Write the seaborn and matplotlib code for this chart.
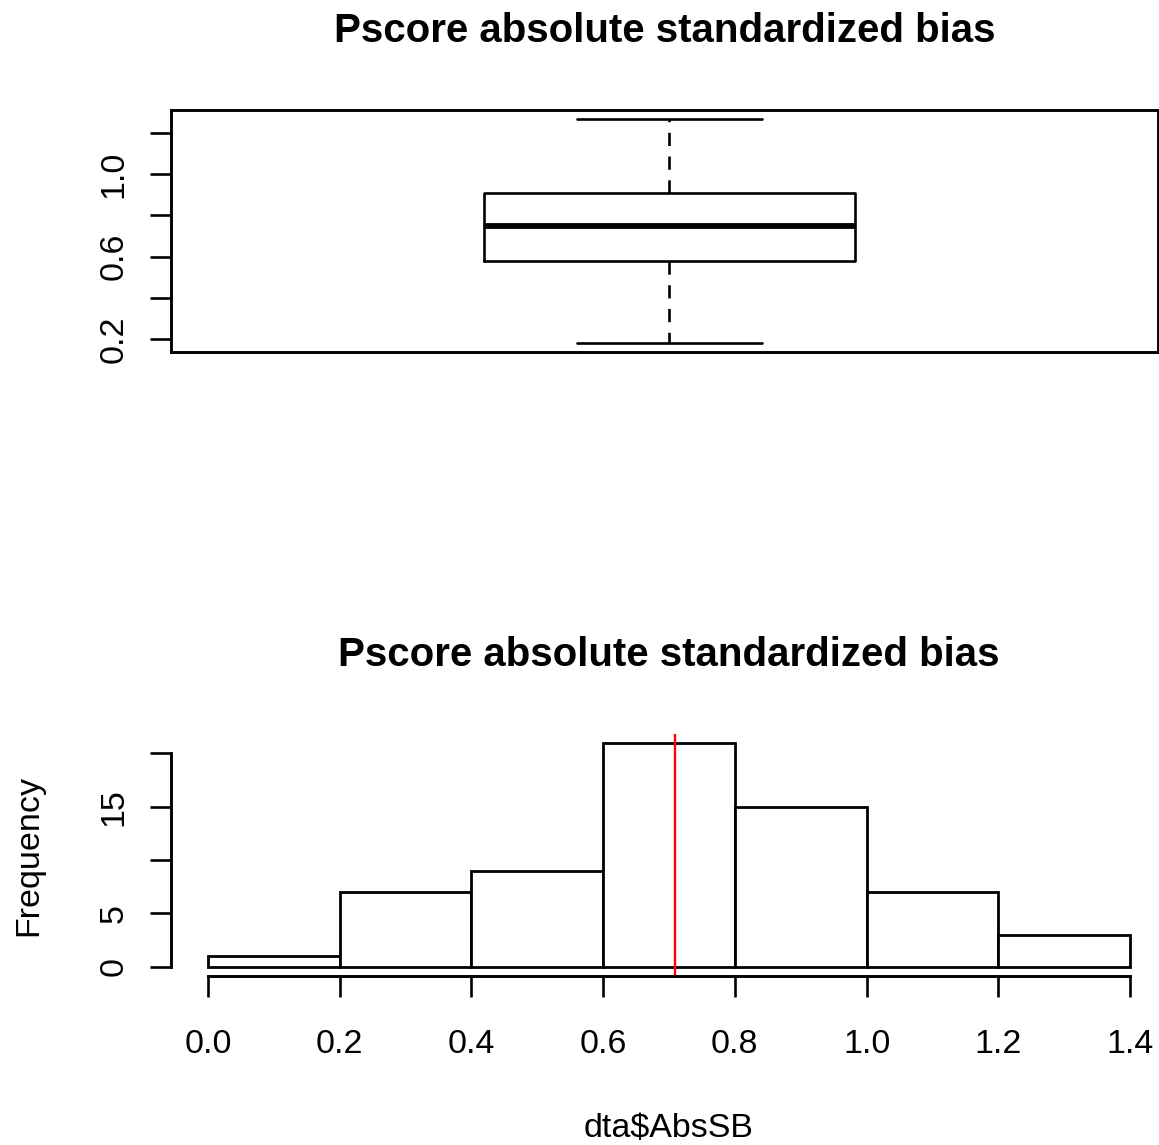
import numpy as np
import seaborn as sns
import matplotlib.pyplot as plt

# five-number summary (min, Q1, median, Q3, max)
box_summary = [0.18, 0.577, 0.746, 0.91, 1.268]

# histogram bins and counts
bin_edges = [0.0, 0.2, 0.4, 0.6, 0.8, 1.0, 1.2, 1.4]
counts = [1, 7, 9, 21, 15, 7, 3]
mean_bias = 0.709

title = 'Pscore absolute standardized bias'
box_yticks = [0.2, 0.4, 0.6, 0.8, 1.0, 1.2]
box_yticklabels = ['0.2', '', '0.6', '', '1.0', '']
hist_yticks = [0, 5, 10, 15, 20]
hist_yticklabels = ['0', '5', '', '15', '']
hist_xticks = [0.0, 0.2, 0.4, 0.6, 0.8, 1.0, 1.2, 1.4]

sns.set_style('ticks')
plt.rcParams['font.family'] = ['Liberation Sans', 'DejaVu Sans']
plt.rcParams['axes.linewidth'] = 2.1
plt.rcParams['xtick.major.width'] = 1.9
plt.rcParams['ytick.major.width'] = 1.9
plt.rcParams['xtick.major.size'] = 15
plt.rcParams['ytick.major.size'] = 15
plt.rcParams['xtick.labelsize'] = 24.5
plt.rcParams['ytick.labelsize'] = 24.5
plt.rcParams['axes.labelsize'] = 24.5
plt.rcParams['text.color'] = 'black'
plt.rcParams['axes.labelcolor'] = 'black'
plt.rcParams['axes.edgecolor'] = 'black'
plt.rcParams['xtick.color'] = 'black'
plt.rcParams['ytick.color'] = 'black'

fig = plt.figure(figsize=(11.59, 11.45), dpi=100)
W, H = 1159, 1145

# top panel: box plot
ax1 = fig.add_axes([171 / W, 1 - 352 / H, 987 / W, 242 / H])
sns.boxplot(y=box_summary, ax=ax1, width=0.372, fill=False, color='black',
            linewidth=1.9, whis=1.5,
            whiskerprops={'linestyle': (0, (5, 4))},
            medianprops={'linewidth': 4.2})
ax1.set_xlim(-0.5, 0.49)
ax1.set_ylim(0.137, 1.311)
ax1.set_xticks([])
ax1.set_yticks(box_yticks)
ax1.set_yticklabels(box_yticklabels, rotation=90, va='center')
ax1.tick_params(axis='y', pad=15)
ax1.set_ylabel('')
ax1.set_title(title, fontsize=29, fontweight='bold', pad=49)
for s in ax1.spines.values():
    s.set_visible(True)

# bottom panel: histogram
ax2 = fig.add_axes([171 / W, 1 - 976 / H, 996 / W, 242 / H])
mids = [(a + b) / 2 for a, b in zip(bin_edges[:-1], bin_edges[1:])]
sns.histplot(x=mids, weights=counts, bins=bin_edges, ax=ax2,
             color='white', edgecolor='black', linewidth=2.0, alpha=1)
ax2.axvline(mean_bias, color='red', linewidth=1.7)
ax2.set_xlim(-0.056, 1.456)
ax2.set_ylim(-0.85, 21.8)
ax2.set_xticks(hist_xticks)
ax2.set_xticklabels([f'{v:.1f}' for v in hist_xticks])
ax2.set_yticks(hist_yticks)
ax2.set_yticklabels(hist_yticklabels, rotation=90, va='center')
ax2.tick_params(axis='y', pad=15)
ax2.tick_params(axis='x', pad=23)
sns.despine(ax=ax2)
ax2.spines['left'].set_bounds(0, 20)
ax2.spines['bottom'].set_bounds(0, 1.4)
ax2.set_xlabel('dta$AbsSB', labelpad=38)
ax2.set_ylabel('Frequency', labelpad=39)
ax2.set_title(title, fontsize=29, fontweight='bold', pad=49)

fig.savefig('out.png', dpi=100)
